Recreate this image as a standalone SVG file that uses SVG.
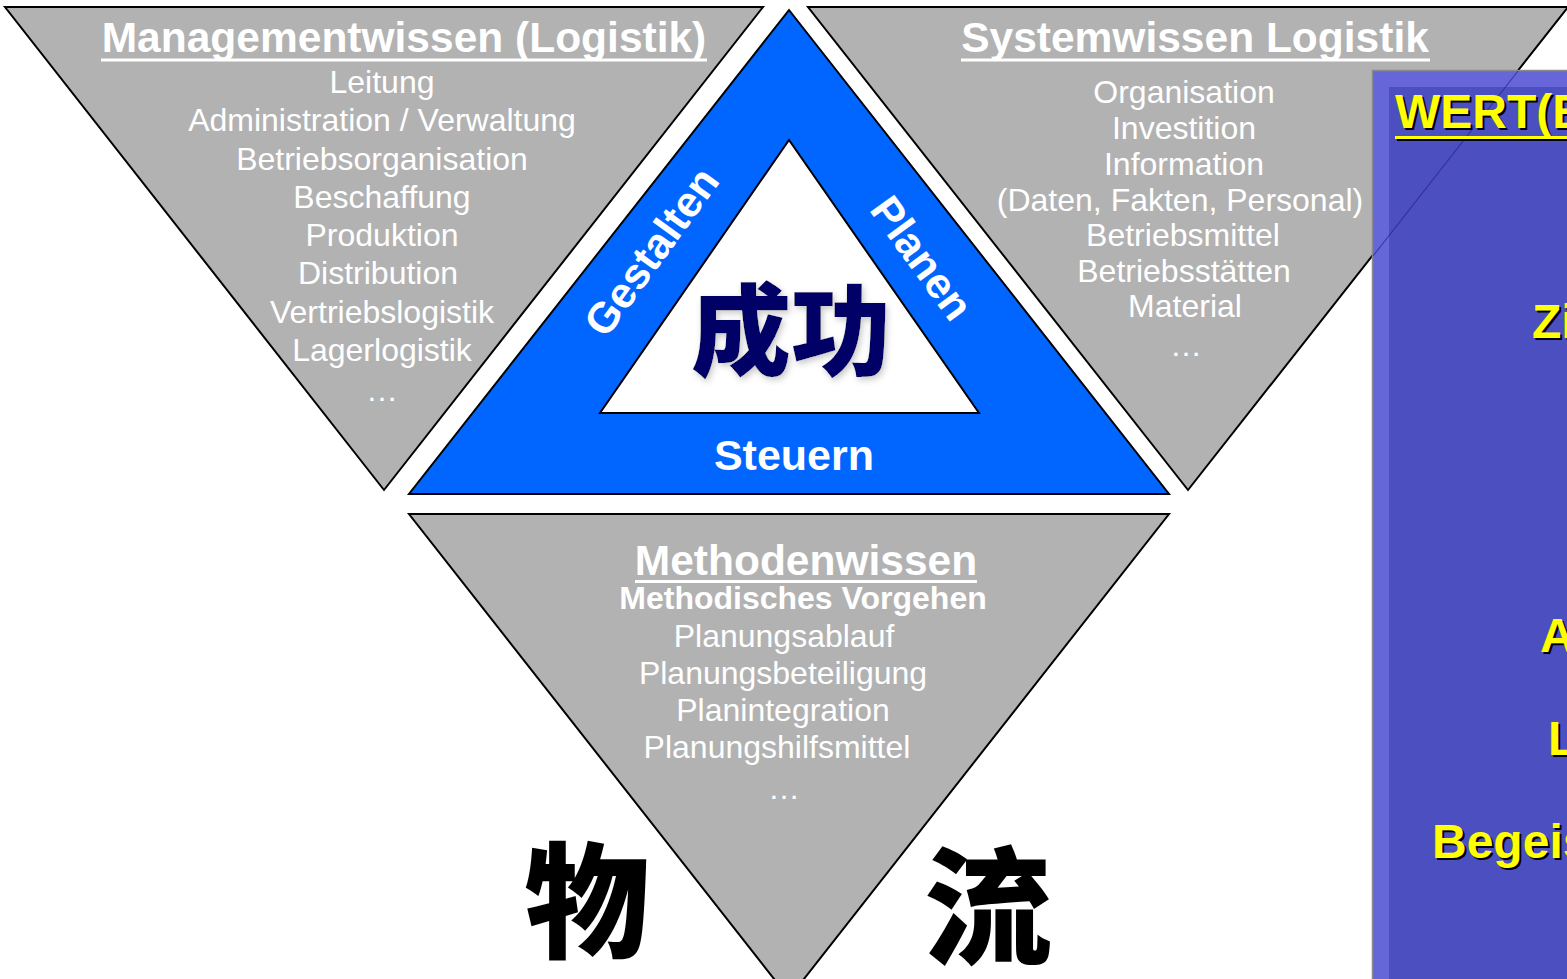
<svg xmlns="http://www.w3.org/2000/svg" width="1567" height="979" viewBox="0 0 1567 979">
<defs>
<style>
.tri{fill:#b2b2b2;stroke:#000;stroke-width:2;stroke-linejoin:miter}
.title{font-family:"Liberation Sans",Arial,sans-serif;font-weight:bold;font-size:42.5px;fill:#fff;text-anchor:middle}
.item{font-family:"Liberation Sans",Arial,sans-serif;font-size:32px;fill:#fff;text-anchor:middle}
.bold{font-weight:bold}
.ul{fill:#fff}
.lab{font-family:"Liberation Sans",Arial,sans-serif;font-weight:bold;font-size:43px;fill:#fff;text-anchor:middle}
.cjk{font-family:"Noto Sans CJK SC","Noto Sans CJK JP",sans-serif;text-anchor:middle}
.yel{font-family:"Liberation Sans",Arial,sans-serif;font-weight:bold;font-size:48px;fill:#ffff00}
.sh{font-family:"Liberation Sans",Arial,sans-serif;font-weight:bold;font-size:48px;fill:#000}
</style>
<filter id="glow" x="-20%" y="-20%" width="140%" height="140%">
<feGaussianBlur in="SourceAlpha" stdDeviation="3"/>
<feOffset dx="2" dy="3" result="b"/>
<feFlood flood-color="#c8c8c8"/>
<feComposite in2="b" operator="in"/>
<feMerge><feMergeNode/><feMergeNode in="SourceGraphic"/></feMerge>
</filter>
</defs>
<rect width="1567" height="979" fill="#fff"/>

<g id="management">
<polygon class="tri" points="5,7 763,7 384,490"/>
<text class="title" x="404" y="52">Managementwissen (Logistik)</text>
<rect class="ul" x="101" y="58.5" width="606" height="3"/>
<text class="item" x="382" y="93">Leitung</text>
<text class="item" x="382" y="131">Administration / Verwaltung</text>
<text class="item" x="382" y="170">Betriebsorganisation</text>
<text class="item" x="382" y="208">Beschaffung</text>
<text class="item" x="382" y="246">Produktion</text>
<text class="item" x="378" y="284">Distribution</text>
<text class="item" x="382" y="323">Vertriebslogistik</text>
<text class="item" x="382" y="361">Lagerlogistik</text>
<text class="item" x="382" y="401">…</text>
</g>

<g id="system">
<polygon class="tri" points="808,7 1568,7 1188,490"/>
<text class="title" x="1195" y="52">Systemwissen Logistik</text>
<rect class="ul" x="961" y="58.5" width="469" height="3"/>
<text class="item" x="1184" y="103">Organisation</text>
<text class="item" x="1184" y="139">Investition</text>
<text class="item" x="1184" y="175">Information</text>
<text class="item" x="1180" y="211">(Daten, Fakten, Personal)</text>
<text class="item" x="1183" y="246">Betriebsmittel</text>
<text class="item" x="1184" y="282">Betriebsstätten</text>
<text class="item" x="1185" y="317">Material</text>
<text class="item" x="1186" y="356">…</text>
</g>

<g id="center">
<polygon points="789,10 409,494 1169,494" fill="#0066ff" stroke="#000" stroke-width="2"/>
<polygon points="789,140 600,413 979,413" fill="#fff" stroke="#000" stroke-width="2"/>
<text class="lab" transform="translate(652,252) rotate(-54)" x="0" y="14" font-size="40">Gestalten</text>
<text class="lab" transform="translate(922,258) rotate(54)" x="0" y="15">Planen</text>
<text class="lab" x="794" y="470" font-size="42">Steuern</text>
<text class="cjk" x="791" y="368" font-size="100" font-weight="900" fill="#000066" filter="url(#glow)">成功</text>
</g>

<g id="method">
<polygon class="tri" points="409,514 1169,514 789,998"/>
<text class="title" x="806" y="575">Methodenwissen</text>
<rect class="ul" x="635" y="580" width="342" height="3"/>
<text class="item bold" x="803" y="609">Methodisches Vorgehen</text>
<text class="item" x="784" y="647">Planungsablauf</text>
<text class="item" x="783" y="684">Planungsbeteiligung</text>
<text class="item" x="783" y="721">Planintegration</text>
<text class="item" x="777" y="758">Planungshilfsmittel</text>
<text class="item" x="784" y="799">…</text>
</g>

<g id="calligraphy">
<text class="cjk" x="587" y="948" font-size="125" font-weight="900" fill="#000">物</text>
<text class="cjk" x="988" y="955" font-size="128" font-weight="900" fill="#000">流</text>
</g>

<g id="werte-panel">
<rect x="1372.5" y="70.5" width="200" height="915" fill="#6666d8" stroke="#8a8a8a" stroke-width="1.5"/>
<rect x="1389" y="87" width="190" height="900" fill="#4b4fbf"/>
<line x1="1518" y1="71" x2="1373" y2="256" stroke="#1e1e80" stroke-width="1.2" opacity="0.6"/>
<text class="sh" x="1397" y="130">WERT(E</text>
<text class="yel" x="1395" y="128">WERT(E</text>
<rect x="1397" y="138" width="180" height="3" fill="#000"/>
<rect x="1395" y="136" width="180" height="3" fill="#ffff00"/>
<text class="sh" x="1534" y="340">Zi</text>
<text class="yel" x="1532" y="338">Zi</text>
<text class="sh" x="1542" y="654">A</text>
<text class="yel" x="1540" y="652">A</text>
<text class="sh" x="1550" y="757">L</text>
<text class="yel" x="1548" y="755">L</text>
<text class="sh" x="1434" y="860">Begeis</text>
<text class="yel" x="1432" y="858">Begeis</text>
</g>
</svg>
